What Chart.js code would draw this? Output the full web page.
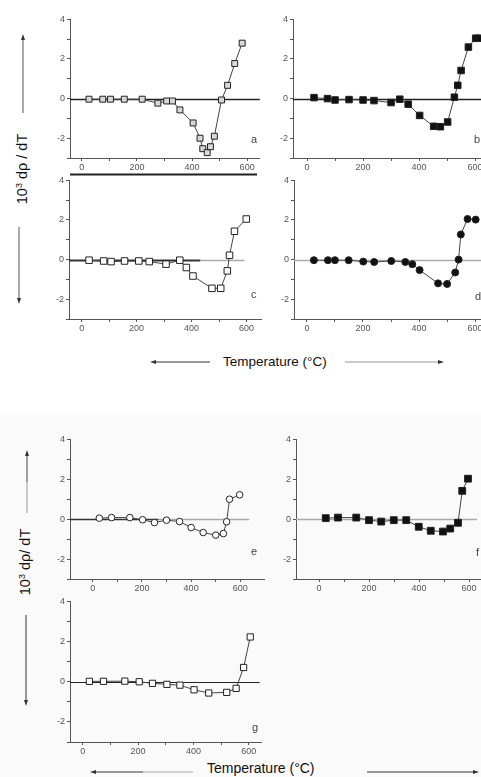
<!DOCTYPE html>
<html>
<head>
<meta charset="utf-8">
<script src="https://cdn.jsdelivr.net/npm/chart.js"></script>
<style>
  html, body { margin: 0; padding: 0; width: 481px; height: 777px; overflow: hidden; background: #fff; }
  body { position: relative; font-family: "Liberation Sans", Arial, sans-serif; }
  canvas { position: absolute; }
  .lbl { position: absolute; color: #111; white-space: nowrap; }
  .let { position: absolute; color: #444; font-size: 11px; }
  .rot { transform: translate(-50%, -50%) rotate(-90deg); font-size: 14.5px; }
  .rot sup { font-size: 9px; }
  #shade { position: absolute; left: 0; top: 415px; width: 481px; height: 362px; background: #fafafa; }
  svg { position: absolute; left: 0; top: 0; }
</style>
</head>
<body>
<div id="shade"></div>

<svg width="481" height="777">
  <!-- bar above panel c -->
  <line x1="70" y1="174.5" x2="257" y2="174.5" stroke="#222" stroke-width="2"/>
  <!-- left arrows, upper block -->
  <line x1="23" y1="38" x2="23" y2="113" stroke="#555" stroke-width="1"/>
  <path d="M23 34 L21 40 L25 40 Z" fill="#333"/>
  <line x1="19" y1="227" x2="19" y2="300" stroke="#555" stroke-width="1"/>
  <path d="M19 304 L17 298 L21 298 Z" fill="#333"/>
  <!-- left arrows, lower block -->
  <line x1="27" y1="454" x2="27" y2="482" stroke="#444" stroke-width="1"/>
  <line x1="27" y1="482" x2="27" y2="513" stroke="#999" stroke-width="1"/>
  <path d="M27 450 L25 456 L29 456 Z" fill="#333"/>
  <line x1="26" y1="615" x2="26" y2="702" stroke="#333" stroke-width="1"/>
  <path d="M26 706 L24 700 L28 700 Z" fill="#333"/>
  <!-- temperature arrows, upper -->
  <line x1="154" y1="362" x2="210" y2="362" stroke="#333" stroke-width="1"/>
  <path d="M150 362 L156 360 L156 364 Z" fill="#333"/>
  <line x1="345" y1="362" x2="440" y2="362" stroke="#999" stroke-width="1"/>
  <path d="M444 362 L438 360 L438 364 Z" fill="#333"/>
  <!-- temperature arrows, lower -->
  <line x1="94" y1="772" x2="143" y2="772" stroke="#333" stroke-width="1"/>
  <line x1="143" y1="772" x2="193" y2="772" stroke="#aaa" stroke-width="1"/>
  <path d="M90 772 L96 770 L96 774 Z" fill="#333"/>
  <line x1="367" y1="772" x2="475" y2="772" stroke="#333" stroke-width="1"/>
  <path d="M479 772 L473 770 L473 774 Z" fill="#333"/>
</svg>

<div class="lbl rot" style="left:22px; top:169px;">10<sup>3</sup> dρ / dT</div>
<div class="lbl rot" style="left:25px; top:562px;">10<sup>3</sup> dρ/ dT</div>
<div class="lbl" style="left:223px; top:354px; font-size:13.5px;">Temperature (°C)</div>
<div class="lbl" style="left:207px; top:760px; font-size:14px;">Temperature (°C)</div>

<script>
// x tick labels and y tick labels shared by every panel
const xTicks = [0, 200, 400, 600];
const yTicks = [-2, 0, 2, 4];
const panelLetters = ['a', 'b', 'c', 'd', 'e', 'f', 'g'];

// panel a
const tempA = [26, 76, 104, 154, 219, 276, 308, 329, 356, 404, 429, 439, 455, 467, 481, 507, 529, 555, 582];
const rhoA = [-0.03, -0.03, -0.03, -0.03, -0.03, -0.23, -0.12, -0.12, -0.57, -1.23, -2.0, -2.53, -2.73, -2.43, -1.9, -0.07, 0.67, 1.77, 2.8];
// panel b
const tempB = [25, 73, 100, 150, 200, 239, 300, 331, 361, 402, 452, 476, 502, 526, 538, 550, 576, 602, 614];
const rhoB = [0.05, 0, -0.07, -0.05, -0.07, -0.1, -0.2, -0.03, -0.28, -0.85, -1.4, -1.42, -1.18, 0.07, 0.67, 1.42, 2.6, 3.05, 3.05];
// panel c
const tempC = [27, 80, 107, 156, 208, 246, 307, 357, 381, 405, 474, 506, 530, 538, 556, 599];
const rhoC = [-0.03, -0.07, -0.1, -0.07, -0.07, -0.1, -0.23, -0.03, -0.4, -0.83, -1.45, -1.45, -0.57, 0.22, 1.43, 2.05];
// panel d
const tempD = [25, 75, 100, 149, 201, 240, 301, 351, 376, 402, 468, 500, 529, 541, 549, 573, 602];
const rhoD = [-0.03, -0.03, -0.03, -0.03, -0.1, -0.12, -0.07, -0.12, -0.23, -0.53, -1.2, -1.23, -0.65, 0, 1.27, 2.05, 2.02];
// panel e
const tempE = [27, 77, 151, 203, 251, 300, 353, 400, 449, 500, 531, 544, 556, 597];
const rhoE = [0.05, 0.08, 0.08, -0.03, -0.17, -0.05, -0.12, -0.42, -0.67, -0.8, -0.72, -0.13, 1.0, 1.22];
// panel f
const tempF = [27, 76, 149, 200, 249, 299, 349, 399, 447, 496, 525, 556, 573, 596];
const rhoF = [0.05, 0.08, 0.08, -0.05, -0.12, -0.05, -0.05, -0.38, -0.58, -0.62, -0.47, -0.18, 1.42, 2.03];
// panel g
const tempG = [24, 75, 152, 204, 252, 304, 351, 402, 455, 520, 554, 581, 605];
const rhoG = [0.02, 0.02, 0.03, 0, -0.08, -0.13, -0.17, -0.4, -0.56, -0.53, -0.33, 0.71, 2.23];

const Y_W = 22, X_H = 16, PAD_T = 6;

// zero line, drawn under the points; segments are [from, to, colour, width]
const baseline = {
  id: 'baseline',
  beforeDatasetsDraw(chart, args, opts) {
    const { ctx, scales: { x, y } } = chart;
    const py = Math.round(y.getPixelForValue(0)) + 0.5;
    ctx.save();
    opts.segs.forEach(s => {
      const x0 = x.getPixelForValue(s[0] == null ? x.min : s[0]);
      const x1 = x.getPixelForValue(s[1] == null ? x.max : s[1]);
      ctx.strokeStyle = s[2];
      ctx.lineWidth = s[3];
      ctx.beginPath();
      ctx.moveTo(x0, py);
      ctx.lineTo(x1, py);
      ctx.stroke();
    });
    ctx.restore();
  }
};

function makePanel(p) {
  const c = document.createElement('canvas');
  const left = p.box[0] - Y_W, top = p.box[1] - PAD_T;
  const padR = p.padR || 2;
  const w = p.box[2] - left + padR, h = p.box[3] + X_H - top;
  c.width = w; c.height = h;
  c.style.left = left + 'px'; c.style.top = top + 'px';
  c.style.width = w + 'px'; c.style.height = h + 'px';
  document.body.appendChild(c);

  const tickFont = { size: 9, family: '"Liberation Sans", Arial, sans-serif' };
  new Chart(c.getContext('2d'), {
    type: 'scatter',
    data: {
      datasets: [{
        data: p.temp.map((t, i) => ({ x: t, y: p.rho[i] })),
        showLine: true,
        borderColor: '#444',
        borderWidth: 1,
        pointStyle: p.marker,
        pointRadius: p.r,
        pointBackgroundColor: p.fill,
        pointBorderColor: '#222',
        pointBorderWidth: 1
      }]
    },
    options: {
      responsive: false,
      animation: false,
      events: [],
      layout: { padding: { top: PAD_T, right: padR, left: 0, bottom: 0 } },
      plugins: {
        legend: { display: false },
        tooltip: { enabled: false },
        baseline: { segs: p.base }
      },
      scales: {
        x: {
          type: 'linear', min: p.xr[0], max: p.xr[1],
          border: { color: '#555', width: 1 },
          grid: { drawOnChartArea: false, tickLength: 3, color: '#555' },
          ticks: { autoSkip: false, maxRotation: 0, padding: 1, color: '#555', font: tickFont,
                   callback: v => xTicks.includes(v) ? String(v) : '' },
          // tick marks every 100 °C, labels only on the xTicks values
          afterBuildTicks: s => {
            const t = [];
            for (let v = 0; v <= 600; v += 100) if (v >= s.min && v <= s.max) t.push({ value: v });
            s.ticks = t;
          },
          afterFit: s => { s.height = X_H; }
        },
        y: {
          min: -3, max: 4,
          border: { color: '#555', width: 1 },
          grid: { drawOnChartArea: false, tickLength: 3, color: '#555' },
          ticks: { stepSize: 1, autoSkip: false, padding: 2, color: '#555', font: tickFont,
                   callback: v => yTicks.includes(v) ? String(v) : '' },
          afterFit: s => { s.width = Y_W; }
        }
      }
    },
    plugins: [baseline]
  });

  const L = document.createElement('div');
  L.className = 'let';
  L.textContent = p.letter;
  L.style.left = p.letterAt[0] + 'px';
  L.style.top = p.letterAt[1] + 'px';
  document.body.appendChild(L);
}

const panels = [
  { temp: tempA, rho: rhoA, box: [70, 18, 263, 158], xr: [-43, 646], marker: 'rect', r: 4.2, fill: '#d8d8d8',
    base: [[null, null, '#222', 1.5]], letter: panelLetters[0], letterAt: [251, 133] },
  { temp: tempB, rho: rhoB, box: [293, 18, 481, 158], xr: [-50, 621], padR: 20, marker: 'rect', r: 4.6, fill: '#111',
    base: [[null, null, '#222', 1.5]], letter: panelLetters[1], letterAt: [474, 133] },
  { temp: tempC, rho: rhoC, box: [69, 179, 265, 319], xr: [-46, 654], marker: 'rect', r: 4.6, fill: '#fff',
    base: [[null, 432, '#333', 2], [432, 593, '#aaa', 1.5]], letter: panelLetters[2], letterAt: [251, 288] },
  { temp: tempD, rho: rhoD, box: [294, 179, 481, 319], xr: [-46, 621], padR: 20, marker: 'circle', r: 3.5, fill: '#111',
    base: [[null, null, '#aaa', 1.5]], letter: panelLetters[3], letterAt: [475, 290] },
  { temp: tempE, rho: rhoE, box: [70, 438, 267, 579], xr: [-92, 696], marker: 'circle', r: 3.3, fill: '#fff',
    base: [[null, 268, '#333', 1.5], [268, 636, '#aaa', 1.5]], letter: panelLetters[4], letterAt: [251, 545] },
  { temp: tempF, rho: rhoF, box: [296, 438, 481, 579], xr: [-92, 648], padR: 20, marker: 'rect', r: 4.8, fill: '#111',
    base: [[null, 632, '#aaa', 1.5]], letter: panelLetters[5], letterAt: [476, 546] },
  { temp: tempG, rho: rhoG, box: [70, 600, 265, 742], xr: [-46, 646], marker: 'rect', r: 4.4, fill: '#fff',
    base: [[null, 639, '#222', 1.2]], letter: panelLetters[6], letterAt: [252, 721] }
];

panels.forEach(makePanel);
</script>
</body>
</html>
